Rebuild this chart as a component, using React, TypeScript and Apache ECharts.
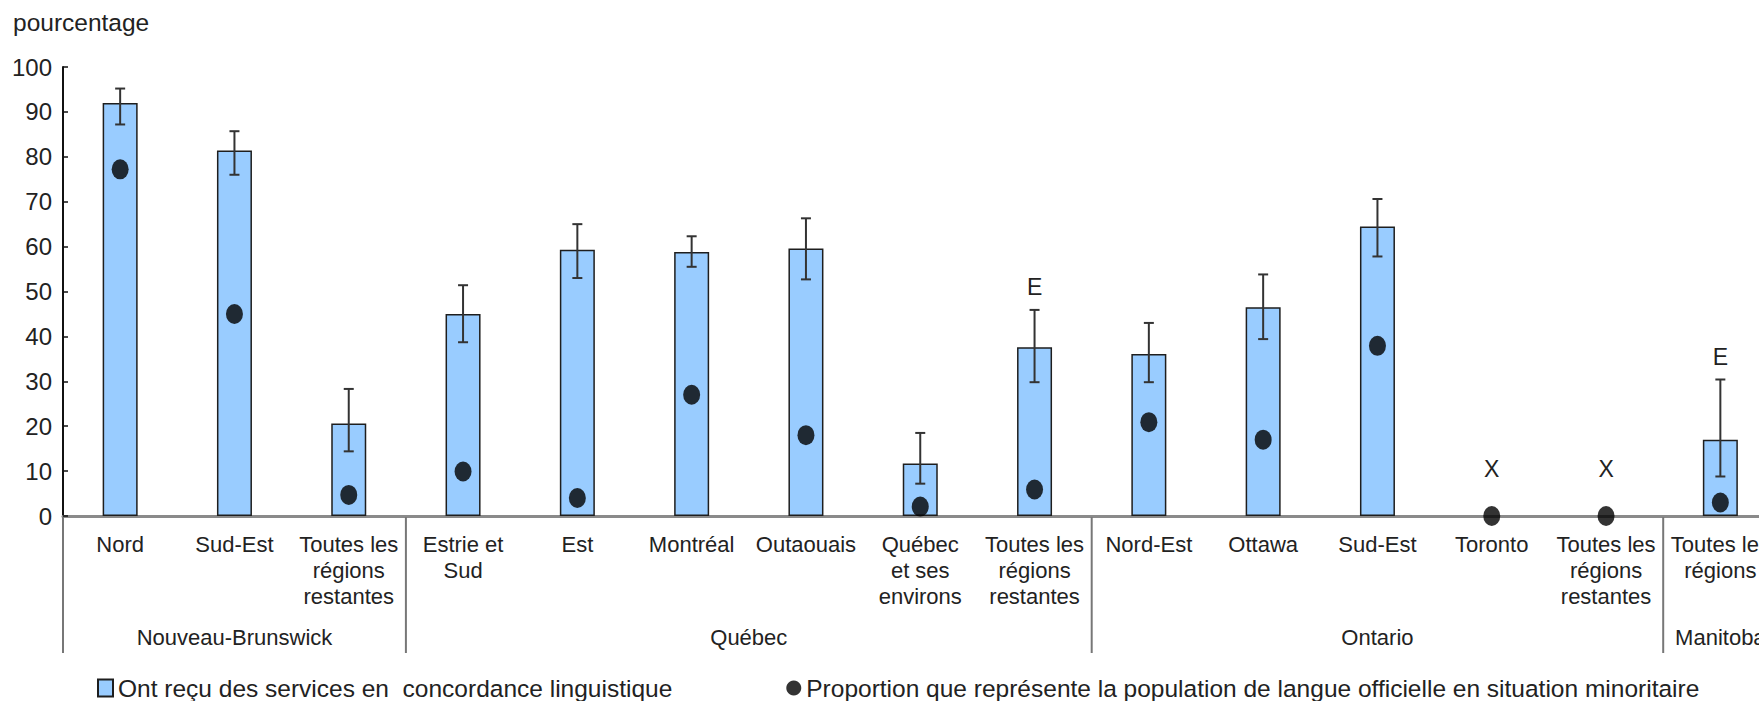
import React, { useEffect, useRef } from 'react';
import * as echarts from 'echarts';

const FONT = "'Liberation Sans', Arial, Helvetica, sans-serif";
const TEXT = '#222';

const categories = [
  'Nord',
  'Sud-Est',
  'Toutes les\nrégions\nrestantes',
  'Estrie et\nSud',
  'Est',
  'Montréal',
  'Outaouais',
  'Québec\net ses\nenvirons',
  'Toutes les\nrégions\nrestantes',
  'Nord-Est',
  'Ottawa',
  'Sud-Est',
  'Toronto',
  'Toutes les\nrégions\nrestantes',
  'Toutes les\nrégions',
];

const groupNames = ['Nouveau-Brunswick', 'Québec', 'Ontario', 'Manitoba'];
const groupStart = [0, 3, 9, 14];
const groupEnd = [2, 8, 13, 14];

const servedName = 'Ont reçu des services en  concordance linguistique';
const minorityName = 'Proportion que représente la population de langue officielle en situation minoritaire';

const servedPct = [92.0, 81.4, 20.6, 45.0, 59.3, 58.8, 59.6, 11.7, 37.6, 36.1, 46.5, 64.5, null, null, 17.0];
const ciLow = [87.2, 76.0, 14.4, 38.7, 53.0, 55.5, 52.7, 7.2, 29.8, 29.8, 39.4, 57.8, null, null, 8.8];
const ciHigh = [95.2, 85.7, 28.3, 51.4, 65.0, 62.3, 66.3, 18.5, 45.9, 43.0, 53.8, 70.6, null, null, 30.4];
const minorityPct = [77.2, 45.0, 4.7, 9.9, 4.0, 27.0, 18.0, 2.1, 5.9, 20.9, 17.0, 37.9, 0, 0, 3.0];
const qualityFlags = ['', '', '', '', '', '', '', '', 'E', '', '', '', 'X', 'X', 'E'];

const yMin = 0;
const yMax = 100;
const yInterval = 10;

function buildOption() {
  const errorData = categories.map((_, i) => [
    i,
    ciLow[i] == null ? '-' : ciLow[i],
    ciHigh[i] == null ? '-' : ciHigh[i],
  ]);
  const groupData = groupNames.map((_, i) => [groupStart[i], 0, groupEnd[i]]);

  return {
    animation: false,
    backgroundColor: '#ffffff',
    textStyle: { fontFamily: FONT },
    title: {
      text: 'pourcentage',
      left: 13,
      top: 8,
      padding: 0,
      textStyle: { fontSize: 24.5, fontWeight: 'normal', color: TEXT, fontFamily: FONT, lineHeight: 28 },
    },
    legend: {
      left: 97,
      top: 674,
      padding: 0,
      itemGap: 114,
      itemWidth: 15,
      itemHeight: 17,
      selectedMode: false,
      textStyle: { fontSize: 24.5, color: TEXT, fontFamily: FONT, lineHeight: 28 },
      data: [
        { name: servedName, icon: 'rect' },
        { name: minorityName, icon: 'circle' },
      ],
    },
    grid: { left: 63, right: 0.5, top: 67, bottom: 185, containLabel: false },
    xAxis: [
      {
        type: 'category',
        data: categories,
        position: 'bottom',
        axisLine: { show: true, onZero: false, lineStyle: { color: '#111', width: 2 } },
        axisTick: { show: false },
        axisLabel: {
          interval: 0,
          margin: 15,
          fontSize: 22,
          lineHeight: 26,
          color: TEXT,
          fontFamily: FONT,
          align: 'center',
        },
        splitLine: { show: false },
      },
      {
        type: 'category',
        data: categories,
        position: 'top',
        axisLine: { show: true, lineStyle: { color: '#8a8a8a', width: 3 } },
        axisTick: { show: false },
        axisLabel: { show: false },
        splitLine: { show: false },
      },
    ],
    yAxis: {
      type: 'value',
      min: yMin,
      max: yMax,
      interval: yInterval,
      axisLine: { show: true, lineStyle: { color: '#111', width: 2 } },
      axisTick: { show: true, inside: true, length: 5, lineStyle: { color: '#111', width: 1.5 } },
      axisLabel: { margin: 11, fontSize: 24, color: TEXT, fontFamily: FONT },
      splitLine: { show: false },
    },
    series: [
      {
        name: servedName,
        type: 'bar',
        xAxisIndex: 0,
        data: servedPct.map((v) => (v == null ? '-' : v)),
        barWidth: 35,
        z: 2,
        itemStyle: { color: '#99CCFF', borderColor: '#1e1e1e', borderWidth: 1.5 },
      },
      {
        name: minorityName,
        type: 'scatter',
        xAxisIndex: 0,
        data: minorityPct,
        symbol: 'path://M0,10a8,10 0 1,0 16,0a8,10 0 1,0 -16,0z',
        symbolSize: [17, 20],
        clip: false,
        z: 3,
        itemStyle: { color: '#000' },
      },
      {
        name: 'ci',
        type: 'custom',
        xAxisIndex: 0,
        data: errorData,
        encode: { x: 0, y: [1, 2] },
        clip: false,
        z: 4,
        silent: true,
        renderItem: (params: any, api: any) => {
          const idx = params.dataIndex;
          const xi = api.value(0);
          const lo = api.value(1);
          const hi = api.value(2);
          const base = api.coord([xi, 0]);
          const cx = base[0];
          const children: any[] = [];
          const stroke = { stroke: '#333', lineWidth: 2 };
          let topY = base[1];
          if (!isNaN(lo) && !isNaN(hi)) {
            const pl = api.coord([xi, lo]);
            const ph = api.coord([xi, hi]);
            topY = ph[1];
            children.push({ type: 'line', shape: { x1: cx, y1: ph[1], x2: cx, y2: pl[1] }, style: stroke });
            children.push({ type: 'line', shape: { x1: cx - 5, y1: ph[1], x2: cx + 5, y2: ph[1] }, style: stroke });
            children.push({ type: 'line', shape: { x1: cx - 5, y1: pl[1], x2: cx + 5, y2: pl[1] }, style: stroke });
          }
          const flag = qualityFlags[idx];
          if (flag === 'E') {
            children.push({
              type: 'text',
              x: cx,
              y: topY - 23,
              style: { text: 'E', align: 'center', verticalAlign: 'middle', fontSize: 23, fill: TEXT, fontFamily: FONT },
            });
          } else if (flag === 'X') {
            children.push({
              type: 'text',
              x: cx,
              y: base[1] - 47,
              style: { text: 'X', align: 'center', verticalAlign: 'middle', fontSize: 23, fill: TEXT, fontFamily: FONT },
            });
          }
          return { type: 'group', children };
        },
      },
      {
        name: 'groups',
        type: 'custom',
        xAxisIndex: 0,
        data: groupData,
        encode: { x: 0, y: 1 },
        clip: false,
        z: 1,
        silent: true,
        renderItem: (params: any, api: any) => {
          const idx = params.dataIndex;
          const s = api.value(0);
          const e = api.value(2);
          const ps = api.coord([s, 0]);
          const pe = api.coord([e, 0]);
          const bw = api.size([1, 0])[0];
          const left = ps[0] - bw / 2;
          const y0 = ps[1];
          return {
            type: 'group',
            children: [
              {
                type: 'line',
                shape: { x1: left, y1: y0 + 1, x2: left, y2: y0 + 137 },
                style: { stroke: '#777', lineWidth: 2 },
              },
              {
                type: 'text',
                x: (ps[0] + pe[0]) / 2,
                y: y0 + 121,
                style: {
                  text: groupNames[idx],
                  align: 'center',
                  verticalAlign: 'middle',
                  fontSize: 22,
                  fill: TEXT,
                  fontFamily: FONT,
                },
              },
            ],
          };
        },
      },
    ],
  };
}

export default function App() {
  const ref = useRef<HTMLDivElement>(null);
  useEffect(() => {
    if (!ref.current) return;
    const chart = echarts.init(ref.current, null, { renderer: 'svg' });
    chart.setOption(buildOption() as any);
    return () => chart.dispose();
  }, []);
  return (
    <div
      style={{
        position: 'absolute',
        left: 0,
        top: 0,
        width: 1759,
        height: 701,
        overflow: 'hidden',
        background: '#fff',
      }}
    >
      <div ref={ref} style={{ width: 1778, height: 701 }} />
    </div>
  );
}
